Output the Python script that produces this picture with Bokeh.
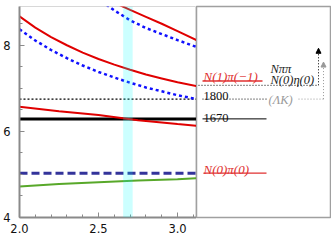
from bokeh.plotting import figure
from bokeh.layouts import row
from bokeh.models import Range1d, SingleIntervalTicker, PrintfTickFormatter, BoxAnnotation, Arrow, NormalHead
from bokeh.core.properties import value
from bokeh.embed import file_html
from bokeh.resources import INLINE

# ---- data ----
red_low_x = [2.0, 2.25, 2.5, 2.75, 3.0, 3.12]
red_low_y = [6.57, 6.47, 6.38, 6.26, 6.17, 6.13]
red_mid_x = [2.0, 2.1, 2.2, 2.3, 2.4, 2.5, 2.6, 2.7, 2.8, 2.9, 3.0, 3.12]
red_mid_y = [8.67, 8.41, 8.19, 8.00, 7.83, 7.68, 7.55, 7.43, 7.32, 7.23, 7.14, 7.05]
red_up_x = [2.6, 2.7, 2.8, 2.9, 3.0, 3.12]
red_up_y = [8.99, 8.82, 8.66, 8.50, 8.33, 8.12]
blue_low_x = [2.0, 2.1, 2.2, 2.3, 2.4, 2.5, 2.6, 2.7, 2.8, 2.9, 3.0, 3.12]
blue_low_y = [8.37, 8.11, 7.89, 7.70, 7.53, 7.38, 7.25, 7.13, 7.02, 6.93, 6.84, 6.75]
blue_up_x = [2.55, 2.6, 2.7, 2.8, 2.9, 3.0, 3.12]
blue_up_y = [8.94, 8.81, 8.58, 8.40, 8.26, 8.12, 7.96]
green_x = [2.0, 2.25, 2.5, 2.75, 3.0, 3.12]
green_y = [4.72, 4.78, 4.82, 4.86, 4.89, 4.91]
x_span = [2.0, 3.12]
level_1670 = 6.29
level_1800 = 6.75
level_npi0 = 5.03
level_npi1 = 7.17
level_neta = 7.07
arrow_black_top = 7.93
arrow_gray_top = 7.61
band = [2.656, 2.716]

labels_red = ["N(1)\u03c0(\u22121)", "N(0)\u03c0(0)"]
labels_dark = ["N\u03c0\u03c0", "N(0)\u03b7(0)"]
labels_num = ["1800", "1670"]
label_gray = ["(\u039bK)"]

serif = value("Liberation Serif")

# ---- main plot ----
p = figure(width=196, height=240, x_range=Range1d(2.0, 3.12), y_range=Range1d(4.0, 8.9),
           output_backend="svg", toolbar_location=None,
           min_border_left=19, min_border_right=0, min_border_top=6, min_border_bottom=23)
p.grid.visible = False
p.outline_line_color = "#d8d8d8"
p.background_fill_color = "white"

p.xaxis.ticker = SingleIntervalTicker(interval=0.5, num_minor_ticks=5)
p.yaxis.ticker = SingleIntervalTicker(interval=2, num_minor_ticks=4)
p.xaxis.formatter = PrintfTickFormatter(format="%.1f")
p.yaxis.formatter = PrintfTickFormatter(format="%d")
for ax in (p.xaxis[0], p.yaxis[0]):
    ax.axis_line_color = "#8a8a8a"
    ax.axis_line_width = 2
    ax.major_tick_in = 5
    ax.major_tick_out = 0
    ax.minor_tick_in = 3
    ax.minor_tick_out = 0
    ax.major_tick_line_color = "#8a8a8a"
    ax.minor_tick_line_color = "#8a8a8a"
    ax.major_label_text_font = "DejaVu Sans"
    ax.major_label_text_font_size = "11.5px"
    ax.major_label_text_color = "#111111"
p.xaxis.major_label_standoff = 6
p.yaxis.major_label_standoff = 9

p.line(green_x, green_y, line_color="#58a82a", line_width=2)
p.line(x_span, [level_npi0, level_npi0], line_color="#33339a", line_width=3, line_dash="8 4")
p.line(x_span, [level_1670, level_1670], line_color="black", line_width=3)
p.line(x_span, [level_1800, level_1800], line_color="black", line_width=1.3, line_dash="2 2")
p.line(red_low_x, red_low_y, line_color="#e00000", line_width=2)
p.line(red_mid_x, red_mid_y, line_color="#e00000", line_width=2)
p.line(red_up_x, red_up_y, line_color="#e00000", line_width=2)
p.line(blue_low_x, blue_low_y, line_color="#1010ff", line_width=2.5, line_dash="3 3")
p.line(blue_up_x, blue_up_y, line_color="#1010ff", line_width=2.5, line_dash="3 3")

p.add_layout(BoxAnnotation(left=band[0], right=band[1], fill_color="#00ffff", fill_alpha=0.2,
                           line_color=None))

# ---- right panel ----
q = figure(width=135, height=240, x_range=Range1d(0, 135), y_range=p.y_range,
           output_backend="svg", toolbar_location=None,
           x_axis_location=None, y_axis_location=None,
           min_border_left=0, min_border_right=0, min_border_top=6, min_border_bottom=23)
q.grid.visible = False
q.outline_line_color = "#a0a0a0"
q.outline_line_width = 1.5

q.line([6, 66], [level_npi1, level_npi1], line_color="#e03030", line_width=1.3)
q.line([2, 122], [level_neta, level_neta], line_color="black", line_width=1, line_dash="1 2")
q.line([6, 70], [level_1800, level_1800], line_color="black", line_width=1, line_dash="1 2")
q.line([102, 127], [level_1800, level_1800], line_color="#999999", line_width=1, line_dash="1 2")
q.line([6, 70], [level_1670, level_1670], line_color="black", line_width=1)
q.line([7, 70], [level_npi0, level_npi0], line_color="#e03030", line_width=1.3)

q.add_layout(Arrow(end=NormalHead(size=5, fill_color="black", line_color="black"),
                   x_start=122, y_start=level_neta, x_end=122, y_end=arrow_black_top,
                   line_color="black", line_width=1, line_dash="1 2"))
q.add_layout(Arrow(end=NormalHead(size=5, fill_color="#999999", line_color="#999999"),
                   x_start=127, y_start=level_1800, x_end=127, y_end=arrow_gray_top,
                   line_color="#999999", line_width=1, line_dash="1 2"))

q.text(x=[7, 7], y=[level_npi1, level_npi0], text=labels_red, y_offset=-4,
       text_font=serif, text_font_style="italic", text_font_size="13px",
       text_color="#e03030", text_baseline="alphabetic")
q.text(x=[74, 74], y=[level_neta, level_neta], text=labels_dark, y_offset=[-16, -5],
       text_font=serif, text_font_style="italic", text_font_size="12.5px",
       text_color="#222222", text_baseline="alphabetic")
q.text(x=[7, 7], y=[level_1800, level_1670], text=labels_num, y_offset=[-3, -1],
       text_font=serif, text_font_size="12.5px",
       text_color="#111111", text_baseline="alphabetic")
q.text(x=[72], y=[level_1800], text=label_gray, y_offset=1,
       text_font=serif, text_font_style="italic", text_font_size="12.5px",
       text_color="#9a9a9a", text_baseline="alphabetic")

layout = row(p, q)
open("out.html", "w").write(file_html(layout, INLINE))
